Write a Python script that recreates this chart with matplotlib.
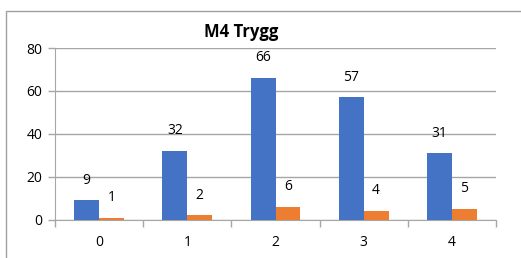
import numpy as np
import matplotlib.pyplot as plt
from matplotlib.patches import Rectangle

categories = ["0", "1", "2", "3", "4"]
series_a = [9, 32, 66, 57, 31]
series_b = [1, 2, 6, 4, 5]
title = "M4 Trygg"

blue = "#4472C4"
orange = "#ED7D31"
grid_col = "#A6A6A6"

plt.rcParams['font.family'] = ['Open Sans', 'DejaVu Sans']

fig = plt.figure(figsize=(5.21, 2.58), dpi=100)
W, H = 521, 258
ax = fig.add_axes([55 / W, 1 - 219.7 / H, (496 - 55) / W, (219.7 - 48) / H])

# chart frame (only top and left edge visible in the crop)
fig.patches.append(Rectangle((6 / W, -0.5), 1.2, 1 - 11 / H + 0.5,
                             transform=fig.transFigure, fill=False,
                             edgecolor="#A0A0A0", linewidth=1.0))

x = np.arange(len(categories))
bw = 0.283
bars_a = ax.bar(x - bw / 2, series_a, width=bw, color=blue, zorder=3)
bars_b = ax.bar(x + bw / 2, series_b, width=bw, color=orange, zorder=3)

for bars, vals in ((bars_a, series_a), (bars_b, series_b)):
    for b, v in zip(bars, vals):
        ax.annotate(str(v), (b.get_x() + b.get_width() / 2, v),
                    xytext=(0, 14.5), textcoords="offset points",
                    ha="center", va="center", fontsize=10, color="#000000")

ax.set_xlim(-0.5, len(categories) - 0.5)
ax.set_ylim(0, 80)
ax.set_yticks([0, 20, 40, 60, 80])
ax.yaxis.grid(True, color=grid_col, linewidth=1.0, zorder=0)
ax.set_axisbelow(True)

ax.set_xticks(x)
ax.set_xticklabels(categories)
ax.set_xticks(np.arange(-0.5, len(categories)), minor=True)
ax.tick_params(axis="x", which="major", length=0, pad=11, labelsize=10)
ax.tick_params(axis="x", which="minor", length=5, color=grid_col, width=1.0)
ax.tick_params(axis="y", length=5, color=grid_col, width=1.0, pad=4, labelsize=10)

for s in ("top", "right"):
    ax.spines[s].set_visible(False)
ax.spines["left"].set_color(grid_col)
ax.spines["bottom"].set_color(grid_col)

fig.text(241 / W, 1 - 32 / H, title, ha="center", va="center",
         fontsize=12, fontweight="bold")

fig.savefig("out.png", dpi=100)
